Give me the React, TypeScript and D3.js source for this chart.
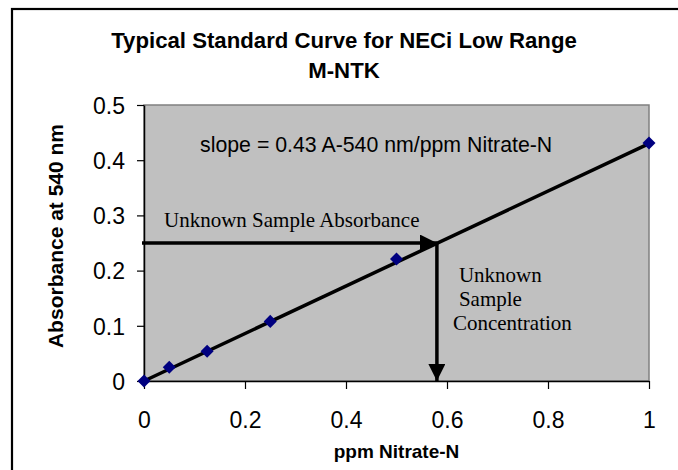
import { useEffect, useRef } from "react";
import * as d3 from "d3";

// standard points
const concentrations = [0, 0.05, 0.125, 0.25, 0.5, 1];
const absorbances = [0, 0.025, 0.054, 0.108, 0.221, 0.431];
const slope = 0.43;
const unknownAbs = 0.25;
const unknownConc = 0.58;
const xTicks = [0, 0.2, 0.4, 0.6, 0.8, 1];
const yTicks = [0, 0.1, 0.2, 0.3, 0.4, 0.5];
const titleLines = ["Typical Standard Curve for NECi Low Range", "M-NTK"];
const concLines = ["Unknown", "Sample", "Concentration"];

const W = 678;
const H = 470;

const App = () => {
  const svgRef = useRef<SVGSVGElement | null>(null);

  useEffect(() => {
    if (!svgRef.current) return;
    const svg = d3.select(svgRef.current);
    svg.selectAll("*").remove();

    const left = 144, right = 649, top = 105, bottom = 381;
    const x = d3.scaleLinear().domain([0, 1]).range([left, right]);
    const y = d3.scaleLinear().domain([0, 0.5]).range([bottom, top]);
    const sans = "'Liberation Sans', Arial, sans-serif";
    const serif = "'Liberation Serif', 'Times New Roman', serif";

    // outer frame, runs off the right and bottom
    svg.append("rect")
      .attr("x", 12).attr("y", 9)
      .attr("width", W + 10).attr("height", H + 10)
      .attr("fill", "#fff").attr("stroke", "#000").attr("stroke-width", 2.2);

    svg.append("g").selectAll("text")
      .data(titleLines)
      .enter().append("text")
      .attr("x", 344)
      .attr("y", (_, i) => 48 + i * 30)
      .attr("text-anchor", "middle")
      .style("font-family", sans)
      .style("font-size", "22.2px")
      .style("font-weight", "bold")
      .text(d => d);

    // plot area
    svg.append("rect")
      .attr("x", left).attr("y", top)
      .attr("width", right - left).attr("height", bottom - top)
      .attr("fill", "#c0c0c0").attr("stroke", "#808080").attr("stroke-width", 1.5);

    // axes
    const xAxis = svg.append("g").attr("transform", `translate(0,${bottom})`)
      .call(d3.axisBottom(x).tickValues(xTicks).tickSize(8).tickSizeOuter(0).tickFormat(d => String(+d)));
    const yAxis = svg.append("g").attr("transform", `translate(${left},0)`)
      .call(d3.axisLeft(y).tickValues(yTicks).tickSize(7).tickSizeOuter(0).tickFormat(d => String(+d)));
    [xAxis, yAxis].forEach(a => {
      a.select(".domain").attr("stroke", "#000").attr("stroke-width", 1.5);
      a.selectAll(".tick line").attr("stroke", "#000").attr("stroke-width", 1.2);
      a.selectAll(".tick text")
        .style("font-family", sans).style("font-size", "23px").attr("fill", "#000");
    });
    xAxis.selectAll(".tick text").attr("y", 0).attr("dy", 0).attr("transform", "translate(0,47)");
    yAxis.selectAll(".tick text").attr("x", -19).attr("dy", "0.36em");

    svg.append("text")
      .attr("x", (left + right) / 2).attr("y", 458)
      .attr("text-anchor", "middle")
      .style("font-family", sans).style("font-size", "19px").style("font-weight", "bold")
      .text("ppm Nitrate-N");
    svg.append("text")
      .attr("transform", `translate(63,236) rotate(-90)`)
      .attr("text-anchor", "middle")
      .style("font-family", sans).style("font-size", "21px").style("font-weight", "bold")
      .text("Absorbance at 540 nm");

    // fitted line
    svg.append("line")
      .attr("x1", x(0)).attr("y1", y(0))
      .attr("x2", x(1)).attr("y2", y(slope))
      .attr("stroke", "#000").attr("stroke-width", 3.5);

    const marker = d3.symbol().type(d3.symbolSquare).size(85);
    svg.append("g").selectAll("path")
      .data(concentrations.map((c, i) => [c, absorbances[i]]))
      .enter().append("path")
      .attr("d", marker)
      .attr("transform", d => `translate(${x(d[0])},${y(d[1])}) rotate(45)`)
      .attr("fill", "#000080");

    // arrows
    const defs = svg.append("defs");
    defs.append("marker")
      .attr("id", "head")
      .attr("viewBox", "0 0 10 10")
      .attr("refX", 10).attr("refY", 5)
      .attr("markerUnits", "userSpaceOnUse")
      .attr("markerWidth", 17).attr("markerHeight", 17)
      .attr("orient", "auto")
      .append("path").attr("d", "M0,0 L10,5 L0,10 Z").attr("fill", "#000");

    svg.append("line")
      .attr("x1", x(0) - 2).attr("y1", y(unknownAbs))
      .attr("x2", x(unknownConc)).attr("y2", y(unknownAbs))
      .attr("stroke", "#000").attr("stroke-width", 3.5)
      .attr("marker-end", "url(#head)");
    svg.append("line")
      .attr("x1", x(unknownConc)).attr("y1", y(unknownAbs))
      .attr("x2", x(unknownConc)).attr("y2", y(0))
      .attr("stroke", "#000").attr("stroke-width", 3.5)
      .attr("marker-end", "url(#head)");

    // annotations
    svg.append("text")
      .attr("x", x(0.111)).attr("y", y(0.415))
      .style("font-family", sans).style("font-size", "21.3px")
      .text(`slope = ${slope} A-540 nm/ppm Nitrate-N`);
    svg.append("text")
      .attr("x", x(0) + 20).attr("y", y(unknownAbs) - 16)
      .style("font-family", serif).style("font-size", "21px")
      .text("Unknown Sample Absorbance");
    svg.append("g").selectAll("text")
      .data(concLines)
      .enter().append("text")
      .attr("x", (_, i) => x(unknownConc) + (i < 2 ? 22 : 16))
      .attr("y", (_, i) => y(unknownAbs) + 39 + i * 24)
      .style("font-family", serif).style("font-size", "21px")
      .text(d => d);
  }, []);

  return (
    <div style={{ position: "absolute", left: 0, top: 0 }}>
      <svg ref={svgRef} width={W} height={H} style={{ display: "block", background: "#fff" }} />
    </div>
  );
};

export default App;
